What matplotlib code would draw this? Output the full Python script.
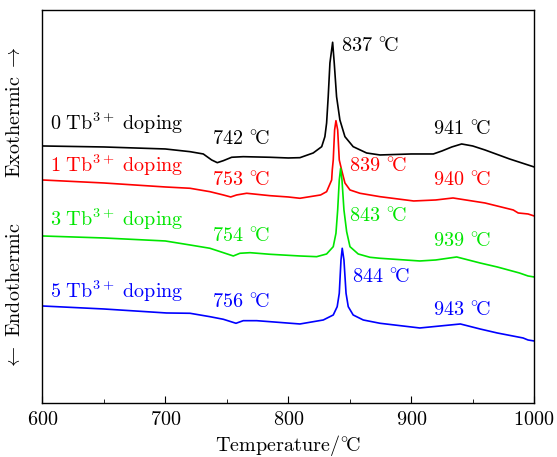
import numpy as np
import matplotlib
matplotlib.use('Agg')
import matplotlib.pyplot as plt

plt.rcParams['font.family'] = ['cmr10', 'DejaVu Serif']
plt.rcParams['mathtext.fontset'] = 'cm'
plt.rcParams['axes.formatter.use_mathtext'] = True

# DTA curves, temperature (C) vs heat flow (arbitrary units)
t_0 = [600, 650, 700, 720.1, 730.9, 737.7, 742.3, 747.2, 754, 763.4, 785.1, 800, 809.5, 820.3, 827.2,
       829.8, 831.2, 832.5, 833.9, 836.1, 837.4, 839.3, 842, 846.1, 852.8, 863.7, 874.6, 900, 918,
       925, 933, 941, 950, 960, 980, 1000]
s_0 = [257, 256, 254, 251.3, 249, 243, 240.3, 242.3, 245.7, 246.3, 245.7, 245, 245.3, 250, 256.3,
       266.3, 280, 306.3, 340, 360.7, 340, 306.3, 283, 266.3, 256.3, 250, 248, 249, 249,
       252, 256, 259, 257, 253, 244, 236]

t_1 = [600, 650, 700, 720.1, 736.3, 747.2, 753.2, 758, 766.2, 785.1, 800, 809.5, 826.3, 831.2, 835.3,
       835.8, 836.6, 837.7, 838.8, 840.2, 841.5, 843.4, 846.1, 850.2, 858.3, 874.6, 902, 920, 934,
       960, 983, 987, 995, 1000]
s_1 = [223, 220, 216, 214.7, 211.3, 208, 206, 208, 209.7, 207.3, 206, 204.7, 208, 211.3, 223,
       233, 243, 273, 282.3, 273, 243, 233, 220, 213, 209.7, 206.3, 202, 203, 205,
       200, 193, 190, 189, 187]

t_3 = [600, 650, 700, 720.1, 736.3, 747.2, 755.3, 760.7, 768.9, 785.1, 809.5, 823.1, 831.2, 836.6,
       838.8, 840.2, 841.5, 842.6, 843.7, 845.3, 847.5, 850.2, 856.9, 866.4, 874.6, 907, 920, 937,
       956, 970, 988, 995, 1000]
s_3 = [167, 165, 162, 158, 154.7, 150.3, 147, 149.7, 150.3, 148.7, 147, 146.3, 149, 156.3,
       169.7, 193, 223, 234.7, 223, 193, 171.3, 156.3, 149, 145.7, 144.7, 142, 143, 146,
       140, 136, 130, 127, 126]

t_5 = [600, 650, 701, 720.1, 736.3, 747.2, 757.5, 763.4, 774.3, 785.1, 809.5, 828.5, 836.6, 839.8,
       841.5, 842.9, 843.9, 845.3, 847, 848.8, 852.8, 861, 874.6, 907, 940, 956, 970, 991, 995, 1000]
s_5 = [97, 94, 90, 89.7, 86.3, 83.7, 79.7, 82.3, 82.3, 81.3, 79, 83, 88, 96.3,
       109.7, 143, 154.7, 143, 109.7, 96.3, 88, 83, 79.7, 75, 79, 74, 70, 65, 63, 62]

curves = [(t_0, s_0, 'black'), (t_1, s_1, '#ff0000'), (t_3, s_3, '#00e600'), (t_5, s_5, '#0000ff')]


def doping(n):
    return '$%d\\ \\mathrm{Tb}^{3+}\\ \\mathrm{doping}$' % n


def temp(v):
    return '$%d\\ {}^{\\circ}\\!\\mathrm{C}$' % v


# labels: (text, temperature, heat flow, colour)
labels = [
    (doping(0), 606, 273, 'black'),
    (temp(742), 738, 258, 'black'),
    (temp(837), 843, 351, 'black'),
    (temp(941), 918, 268, 'black'),
    (doping(1), 606, 231, '#ff0000'),
    (temp(753), 738, 217, '#ff0000'),
    (temp(839), 849.5, 231, '#ff0000'),
    (temp(940), 918, 217, '#ff0000'),
    (doping(3), 606, 177, '#00e600'),
    (temp(754), 738, 161, '#00e600'),
    (temp(843), 849.5, 181, '#00e600'),
    (temp(939), 918, 156, '#00e600'),
    (doping(5), 606, 105, '#0000ff'),
    (temp(756), 738, 95, '#0000ff'),
    (temp(844), 852, 120, '#0000ff'),
    (temp(943), 918, 87, '#0000ff'),
]

fs = 14.5
fig = plt.figure(figsize=(5.57, 4.57), dpi=100)
ax = fig.add_axes([0.076, 0.1182, 0.883, 0.8600])

for t, s, c in curves:
    ax.plot(t, s, color=c, lw=1.2)

for txt, x, y, c in labels:
    ax.text(x, y, txt, color=c, fontsize=fs, ha='left', va='baseline')

ax.set_xlim(600, 1000)
ax.set_ylim(0, 393)
ax.set_xticks(np.arange(600, 1001, 100))
ax.set_xticks(np.arange(650, 1000, 100), minor=True)
ax.set_yticks([])
ax.tick_params(axis='x', which='major', direction='in', length=5, labelsize=fs, pad=6)
ax.tick_params(axis='x', which='minor', direction='in', length=3)
for sp in ax.spines.values():
    sp.set_linewidth(1.0)

ax.set_xlabel('$\\mathrm{Temperature}/{}^{\\circ}\\!\\mathrm{C}$', fontsize=fs, labelpad=3)
fig.text(0.027, 0.755, '$\\mathrm{Exothermic}\\ \\rightarrow$', rotation=90, ha='center', va='center', fontsize=fs)
fig.text(0.027, 0.352, '$\\leftarrow\\ \\mathrm{Endothermic}$', rotation=90, ha='center', va='center', fontsize=fs)

fig.savefig('out.png', dpi=100)
